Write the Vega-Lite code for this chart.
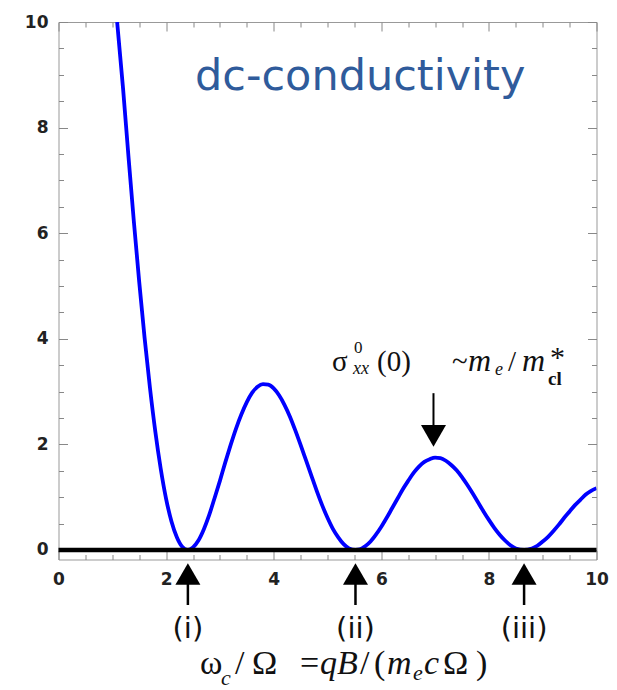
{
  "$schema": "https://vega.github.io/schema/vega-lite/v6.json",
  "width": 538,
  "height": 537.5,
  "autosize": {"type": "none"},
  "padding": {"left": 58.5, "top": 22, "right": 20.5, "bottom": 130.5},
  "background": "white",
  "config": {
    "view": {"stroke": "#999", "strokeWidth": 1},
    "axis": {"grid": false, "domain": false, "tickColor": "#888", "tickWidth": 1, "labelFont": "DejaVu Sans", "labelFontWeight": "bold", "labelFontSize": 17, "labelColor": "#222", "labelFlush": false, "labelOverlap": false, "format": "d"}
  },
  "datasets": {
    "curve": [
      {"x": 1.09, "y": 10.0}, {"x": 1.2, "y": 8.74}, {"x": 1.3, "y": 7.46}, {"x": 1.4, "y": 6.23}, {"x": 1.5, "y": 5.08},
      {"x": 1.6, "y": 4.02}, {"x": 1.7, "y": 3.07}, {"x": 1.8, "y": 2.24}, {"x": 1.9, "y": 1.54}, {"x": 2.0, "y": 0.97},
      {"x": 2.1, "y": 0.54}, {"x": 2.2, "y": 0.24}, {"x": 2.3, "y": 0.06}, {"x": 2.405, "y": 0.0}, {"x": 2.5, "y": 0.05},
      {"x": 2.6, "y": 0.18}, {"x": 2.7, "y": 0.39}, {"x": 2.8, "y": 0.66}, {"x": 2.9, "y": 0.98}, {"x": 3.0, "y": 1.31},
      {"x": 3.1, "y": 1.66}, {"x": 3.2, "y": 1.99}, {"x": 3.3, "y": 2.30}, {"x": 3.4, "y": 2.57}, {"x": 3.5, "y": 2.80},
      {"x": 3.6, "y": 2.98}, {"x": 3.7, "y": 3.09}, {"x": 3.8, "y": 3.14}, {"x": 3.9, "y": 3.13}, {"x": 4.0, "y": 3.06},
      {"x": 4.1, "y": 2.93}, {"x": 4.2, "y": 2.75}, {"x": 4.3, "y": 2.53}, {"x": 4.4, "y": 2.27}, {"x": 4.5, "y": 1.99},
      {"x": 4.6, "y": 1.70}, {"x": 4.7, "y": 1.41}, {"x": 4.8, "y": 1.12}, {"x": 4.9, "y": 0.85}, {"x": 5.0, "y": 0.61},
      {"x": 5.1, "y": 0.40}, {"x": 5.2, "y": 0.24}, {"x": 5.3, "y": 0.11}, {"x": 5.4, "y": 0.03}, {"x": 5.52, "y": 0.0},
      {"x": 5.6, "y": 0.01}, {"x": 5.7, "y": 0.07}, {"x": 5.8, "y": 0.16}, {"x": 5.9, "y": 0.29}, {"x": 6.0, "y": 0.44},
      {"x": 6.1, "y": 0.61}, {"x": 6.2, "y": 0.79}, {"x": 6.3, "y": 0.97}, {"x": 6.4, "y": 1.15}, {"x": 6.5, "y": 1.31},
      {"x": 6.6, "y": 1.46}, {"x": 6.7, "y": 1.58}, {"x": 6.8, "y": 1.67}, {"x": 6.9, "y": 1.72}, {"x": 7.0, "y": 1.75},
      {"x": 7.1, "y": 1.74}, {"x": 7.2, "y": 1.69}, {"x": 7.3, "y": 1.61}, {"x": 7.4, "y": 1.51}, {"x": 7.5, "y": 1.38},
      {"x": 7.6, "y": 1.23}, {"x": 7.7, "y": 1.07}, {"x": 7.8, "y": 0.90}, {"x": 7.9, "y": 0.73}, {"x": 8.0, "y": 0.57},
      {"x": 8.1, "y": 0.42}, {"x": 8.2, "y": 0.29}, {"x": 8.3, "y": 0.18}, {"x": 8.4, "y": 0.09}, {"x": 8.5, "y": 0.03},
      {"x": 8.654, "y": 0.0}, {"x": 8.8, "y": 0.03}, {"x": 8.9, "y": 0.08}, {"x": 9.0, "y": 0.16}, {"x": 9.1, "y": 0.25},
      {"x": 9.2, "y": 0.36}, {"x": 9.3, "y": 0.48}, {"x": 9.4, "y": 0.61}, {"x": 9.5, "y": 0.73}, {"x": 9.6, "y": 0.85},
      {"x": 9.7, "y": 0.95}, {"x": 9.8, "y": 1.05}, {"x": 9.9, "y": 1.12}, {"x": 10.0, "y": 1.17}
    ],
    "zeros": [{"x": 2.405, "label": "(i)"}, {"x": 5.52, "label": "(ii)"}, {"x": 8.654, "label": "(iii)"}],
    "peak": [{"x": 6.97}],
    "baseline": [{"y": 0}],
    "sigUp": [{"x": 5.084, "y": 3.39, "t": "σ"}, {"x": 5.92, "y": 3.39, "t": "(0)"}, {"x": 7.314, "y": 3.39, "t": "~"}, {"x": 8.355, "y": 3.39, "t": "/"}],
    "sigIt": [{"x": 7.612, "y": 3.39, "t": "m"}, {"x": 8.615, "y": 3.39, "t": "m"}],
    "sigSup": [{"x": 5.493, "y": 3.731, "t": "0"}],
    "sigSubIt": [{"x": 5.474, "y": 3.333, "t": "xx"}, {"x": 8.113, "y": 3.314, "t": "e"}],
    "sigSubBold": [{"x": 9.1, "y": 3.125, "t": "cl"}],
    "sigStar": [{"x": 9.135, "y": 3.466, "t": "*"}],
    "xtUp": [{"x": 2.63, "y": -2.348, "t": "ω"}, {"x": 3.281, "y": -2.348, "t": "/"}, {"x": 3.597, "y": -2.348, "t": "Ω"}, {"x": 4.489, "y": -2.348, "t": "="}, {"x": 5.604, "y": -2.348, "t": "/"}, {"x": 5.864, "y": -2.348, "t": "("}, {"x": 7.146, "y": -2.348, "t": "Ω"}, {"x": 7.76, "y": -2.348, "t": ")"}],
    "xtIt": [{"x": 4.861, "y": -2.348, "t": "qB"}, {"x": 6.106, "y": -2.348, "t": "m"}, {"x": 6.794, "y": -2.348, "t": "c"}],
    "xtSub": [{"x": 3.02, "y": -2.557, "t": "c"}, {"x": 6.589, "y": -2.462, "t": "e"}],
    "title": [{"x": 2.537, "y": 8.712, "t": "dc-conductivity"}]
  },
  "resolve": {"axis": {"x": "independent", "y": "independent"}},
  "layer": [
    {
      "data": {"name": "curve"},
      "mark": {"type": "line", "color": "#0000ff", "strokeWidth": 3.8, "interpolate": "monotone", "clip": true},
      "encoding": {
        "x": {"field": "x", "type": "quantitative", "scale": {"domain": [0, 10], "nice": false, "zero": false},
          "axis": {"orient": "bottom", "title": null, "values": [0, 2, 4, 6, 8, 10], "tickSize": -9, "labelPadding": 21}},
        "y": {"field": "y", "type": "quantitative", "scale": {"domain": [-0.18, 10], "nice": false, "zero": false},
          "axis": {"orient": "left", "title": null, "values": [0, 2, 4, 6, 8, 10], "tickSize": -9, "labelPadding": 19.5}}
      }
    },
    {
      "data": {"name": "curve"},
      "mark": {"type": "point", "opacity": 0},
      "encoding": {
        "x": {"field": "x", "type": "quantitative", "scale": {"domain": [0, 10], "nice": false, "zero": false},
          "axis": {"orient": "top", "title": null, "labels": false, "values": [0, 2, 4, 6, 8, 10], "tickSize": -9}},
        "y": {"field": "y", "type": "quantitative", "scale": {"domain": [-0.18, 10], "nice": false, "zero": false},
          "axis": {"orient": "right", "title": null, "labels": false, "values": [0, 2, 4, 6, 8, 10], "tickSize": -9}}
      }
    },
    {
      "data": {"name": "curve"},
      "mark": {"type": "point", "opacity": 0},
      "encoding": {
        "x": {"field": "x", "type": "quantitative", "scale": {"domain": [0, 10], "nice": false, "zero": false},
          "axis": {"orient": "bottom", "title": null, "labels": false, "values": [0.5, 1, 1.5, 2.5, 3, 3.5, 4.5, 5, 5.5, 6.5, 7, 7.5, 8.5, 9, 9.5], "tickSize": -5}},
        "y": {"field": "y", "type": "quantitative", "scale": {"domain": [-0.18, 10], "nice": false, "zero": false},
          "axis": {"orient": "left", "title": null, "labels": false, "values": [0.5, 1, 1.5, 2.5, 3, 3.5, 4.5, 5, 5.5, 6.5, 7, 7.5, 8.5, 9, 9.5], "tickSize": -5}}
      }
    },
    {
      "data": {"name": "curve"},
      "mark": {"type": "point", "opacity": 0},
      "encoding": {
        "x": {"field": "x", "type": "quantitative", "scale": {"domain": [0, 10], "nice": false, "zero": false},
          "axis": {"orient": "top", "title": null, "labels": false, "values": [0.5, 1, 1.5, 2.5, 3, 3.5, 4.5, 5, 5.5, 6.5, 7, 7.5, 8.5, 9, 9.5], "tickSize": -5}},
        "y": {"field": "y", "type": "quantitative", "scale": {"domain": [-0.18, 10], "nice": false, "zero": false},
          "axis": {"orient": "right", "title": null, "labels": false, "values": [0.5, 1, 1.5, 2.5, 3, 3.5, 4.5, 5, 5.5, 6.5, 7, 7.5, 8.5, 9, 9.5], "tickSize": -5}}
      }
    },
    {
      "data": {"name": "baseline"},
      "mark": {"type": "rule", "color": "#000000", "strokeWidth": 4.5},
      "encoding": {"y": {"field": "y", "type": "quantitative", "axis": null}}
    },
    {
      "data": {"name": "zeros"},
      "mark": {"type": "point", "shape": "triangle-up", "size": 625, "filled": true, "color": "#000000", "opacity": 1},
      "encoding": {"x": {"field": "x", "type": "quantitative", "axis": null}, "y": {"datum": -0.455, "type": "quantitative", "axis": null}}
    },
    {
      "data": {"name": "zeros"},
      "mark": {"type": "rule", "color": "#000000", "strokeWidth": 2.5},
      "encoding": {"x": {"field": "x", "type": "quantitative", "axis": null}, "y": {"datum": -0.6, "type": "quantitative", "axis": null}, "y2": {"datum": -1.042}}
    },
    {
      "data": {"name": "zeros"},
      "mark": {"type": "text", "font": "DejaVu Sans", "fontSize": 29, "color": "#111111", "align": "center", "baseline": "alphabetic"},
      "encoding": {"x": {"field": "x", "type": "quantitative", "axis": null}, "y": {"datum": -1.667, "type": "quantitative", "axis": null}, "text": {"field": "label"}}
    },
    {
      "data": {"name": "peak"},
      "mark": {"type": "rule", "color": "#000000", "strokeWidth": 2},
      "encoding": {"x": {"field": "x", "type": "quantitative", "axis": null}, "y": {"datum": 2.97, "type": "quantitative", "axis": null}, "y2": {"datum": 2.3}}
    },
    {
      "data": {"name": "peak"},
      "mark": {"type": "point", "shape": "triangle-down", "size": 625, "filled": true, "color": "#000000", "opacity": 1},
      "encoding": {"x": {"field": "x", "type": "quantitative", "axis": null}, "y": {"datum": 2.16, "type": "quantitative", "axis": null}}
    },
    {
      "data": {"name": "sigUp"},
      "mark": {"type": "text", "font": "Liberation Serif", "fontSize": 29, "color": "#111111", "align": "left", "baseline": "alphabetic"},
      "encoding": {"x": {"field": "x", "type": "quantitative", "axis": null}, "y": {"field": "y", "type": "quantitative", "axis": null}, "text": {"field": "t"}}
    },
    {
      "data": {"name": "sigIt"},
      "mark": {"type": "text", "font": "Liberation Serif", "fontSize": 32, "fontStyle": "italic", "color": "#111111", "align": "left", "baseline": "alphabetic"},
      "encoding": {"x": {"field": "x", "type": "quantitative", "axis": null}, "y": {"field": "y", "type": "quantitative", "axis": null}, "text": {"field": "t"}}
    },
    {
      "data": {"name": "sigSup"},
      "mark": {"type": "text", "font": "Liberation Serif", "fontSize": 17, "color": "#111111", "align": "left", "baseline": "alphabetic"},
      "encoding": {"x": {"field": "x", "type": "quantitative", "axis": null}, "y": {"field": "y", "type": "quantitative", "axis": null}, "text": {"field": "t"}}
    },
    {
      "data": {"name": "sigSubIt"},
      "mark": {"type": "text", "font": "Liberation Serif", "fontSize": 18, "fontStyle": "italic", "color": "#111111", "align": "left", "baseline": "alphabetic"},
      "encoding": {"x": {"field": "x", "type": "quantitative", "axis": null}, "y": {"field": "y", "type": "quantitative", "axis": null}, "text": {"field": "t"}}
    },
    {
      "data": {"name": "sigSubBold"},
      "mark": {"type": "text", "font": "Liberation Serif", "fontSize": 19, "fontWeight": "bold", "color": "#111111", "align": "left", "baseline": "alphabetic"},
      "encoding": {"x": {"field": "x", "type": "quantitative", "axis": null}, "y": {"field": "y", "type": "quantitative", "axis": null}, "text": {"field": "t"}}
    },
    {
      "data": {"name": "sigStar"},
      "mark": {"type": "text", "font": "Liberation Serif", "fontSize": 30, "color": "#111111", "align": "left", "baseline": "alphabetic"},
      "encoding": {"x": {"field": "x", "type": "quantitative", "axis": null}, "y": {"field": "y", "type": "quantitative", "axis": null}, "text": {"field": "t"}}
    },
    {
      "data": {"name": "xtUp"},
      "mark": {"type": "text", "font": "Liberation Serif", "fontSize": 34, "color": "#111111", "align": "left", "baseline": "alphabetic"},
      "encoding": {"x": {"field": "x", "type": "quantitative", "axis": null}, "y": {"field": "y", "type": "quantitative", "axis": null}, "text": {"field": "t"}}
    },
    {
      "data": {"name": "xtIt"},
      "mark": {"type": "text", "font": "Liberation Serif", "fontSize": 34, "fontStyle": "italic", "color": "#111111", "align": "left", "baseline": "alphabetic"},
      "encoding": {"x": {"field": "x", "type": "quantitative", "axis": null}, "y": {"field": "y", "type": "quantitative", "axis": null}, "text": {"field": "t"}}
    },
    {
      "data": {"name": "xtSub"},
      "mark": {"type": "text", "font": "Liberation Serif", "fontSize": 22, "fontStyle": "italic", "color": "#111111", "align": "left", "baseline": "alphabetic"},
      "encoding": {"x": {"field": "x", "type": "quantitative", "axis": null}, "y": {"field": "y", "type": "quantitative", "axis": null}, "text": {"field": "t"}}
    },
    {
      "data": {"name": "title"},
      "mark": {"type": "text", "font": "DejaVu Sans", "fontSize": 43, "color": "#2f5b9b", "align": "left", "baseline": "alphabetic"},
      "encoding": {"x": {"field": "x", "type": "quantitative", "axis": null}, "y": {"field": "y", "type": "quantitative", "axis": null}, "text": {"field": "t"}}
    }
  ]
}
